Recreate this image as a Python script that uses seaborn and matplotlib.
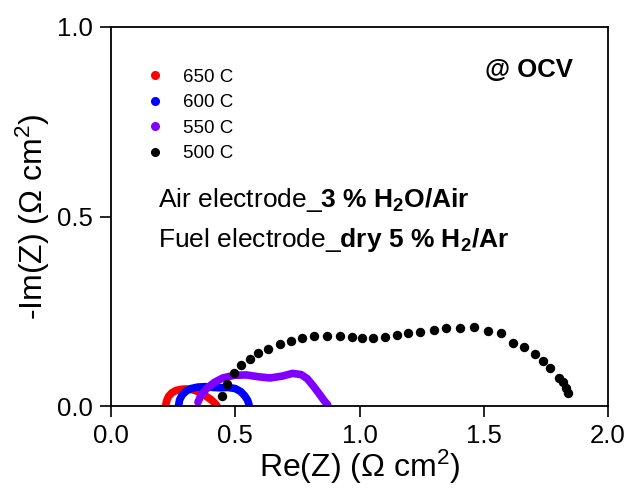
import matplotlib
matplotlib.use("Agg")
import matplotlib.pyplot as plt
from matplotlib.lines import Line2D
import seaborn as sns
import pandas as pd

# ---- data ----
labels = ["650 C", "600 C", "550 C", "500 C"]
colors = ["#ff0000", "#0000ff", "#8000ff", "#000000"]

re_650 = [0.220, 0.224, 0.232, 0.245, 0.262, 0.282, 0.302, 0.322, 0.342, 0.362, 0.382, 0.400, 0.414, 0.422, 0.426]
im_650 = [0.002, 0.014, 0.026, 0.035, 0.041, 0.044, 0.045, 0.044, 0.040, 0.034, 0.026, 0.018, 0.010, 0.004, 0.001]

re_600 = [0.272, 0.276, 0.286, 0.302, 0.322, 0.350, 0.380, 0.410, 0.440, 0.470, 0.500, 0.522, 0.538, 0.549, 0.554, 0.556]
im_600 = [0.002, 0.016, 0.029, 0.039, 0.046, 0.050, 0.051, 0.049, 0.048, 0.049, 0.046, 0.038, 0.027, 0.016, 0.007, 0.001]

re_550 = [0.350, 0.362, 0.385, 0.415, 0.450, 0.495, 0.545, 0.595, 0.640, 0.690, 0.730, 0.765, 0.790, 0.815, 0.838, 0.858, 0.872]
im_550 = [0.010, 0.028, 0.046, 0.062, 0.074, 0.081, 0.082, 0.077, 0.074, 0.079, 0.086, 0.083, 0.072, 0.052, 0.032, 0.014, 0.003]

re_500 = [0.448, 0.468, 0.496, 0.524, 0.560, 0.593, 0.633, 0.681, 0.726, 0.770, 0.818, 0.871, 0.921,
          0.968, 1.012, 1.056, 1.101, 1.149, 1.194, 1.242, 1.298, 1.347, 1.403, 1.460, 1.516, 1.569,
          1.617, 1.661, 1.706, 1.738, 1.766, 1.802, 1.819, 1.831, 1.839]
im_500 = [0.026, 0.058, 0.086, 0.107, 0.124, 0.140, 0.150, 0.164, 0.171, 0.179, 0.185, 0.185, 0.185,
          0.182, 0.180, 0.180, 0.182, 0.187, 0.193, 0.195, 0.200, 0.206, 0.206, 0.208, 0.198, 0.193,
          0.166, 0.156, 0.137, 0.119, 0.100, 0.074, 0.063, 0.047, 0.034]

x_ticks = [0.0, 0.5, 1.0, 1.5, 2.0]
y_ticks = [0.0, 0.5, 1.0]

# ---- style ----
sns.set_style("ticks")
plt.rcParams["font.family"] = ["Liberation Sans", "DejaVu Sans"]
plt.rcParams["mathtext.fontset"] = "custom"
plt.rcParams["mathtext.rm"] = "Liberation Sans"
plt.rcParams["mathtext.it"] = "Liberation Sans"
plt.rcParams["mathtext.bf"] = "Liberation Sans:bold"
plt.rcParams["text.color"] = "black"
plt.rcParams["axes.labelcolor"] = "black"
plt.rcParams["xtick.color"] = "black"
plt.rcParams["ytick.color"] = "black"

fig = plt.figure(figsize=(6.32, 4.88), dpi=100)
ax = fig.add_axes([111 / 632, 1 - 406 / 488, 497 / 632, 379 / 488])

lines = [(re_650, im_650), (re_600, im_600), (re_550, im_550)]
for (xs, ys), lab, c in zip(lines, labels[:3], colors[:3]):
    df = pd.DataFrame({"re": xs, "im": ys})
    sns.lineplot(data=df, x="re", y="im", sort=False, color=c, linewidth=5.5,
                 solid_capstyle="round", solid_joinstyle="round", ax=ax, legend=False)

df500 = pd.DataFrame({"re": re_500, "im": im_500})
sns.scatterplot(data=df500, x="re", y="im", color=colors[3], s=46, linewidth=0,
                ax=ax, legend=False, zorder=5)

ax.set_xlim(0, 2.0)
ax.set_ylim(0, 1.0)
ax.set_xticks(x_ticks)
ax.set_yticks(y_ticks)
ax.set_xticklabels([f"{v:.1f}" for v in x_ticks])
ax.set_yticklabels([f"{v:.1f}" for v in y_ticks])
ax.tick_params(axis="both", direction="out", length=8, width=1.2, labelsize=18.5,
               colors="black", labelcolor="black", pad=5)
for sp in ax.spines.values():
    sp.set_linewidth(1.3)
    sp.set_color("black")

ax.set_xlabel(r"Re(Z) ($\Omega$ cm$^2$)", fontsize=23, labelpad=0, color="black")
ax.set_ylabel(r"-Im(Z) ($\Omega$ cm$^2$)", fontsize=23, labelpad=4, color="black")

handles = [Line2D([0], [0], marker="o", linestyle="none", markersize=5.5,
                  markerfacecolor=c, markeredgecolor=c) for c in colors]
ax.legend(handles, labels, loc="upper left", bbox_to_anchor=(0.035, 0.935), frameon=False,
          fontsize=13.5, handletextpad=1.0, labelspacing=0.45, handlelength=1.0,
          labelcolor="black")

ax.text(0.93, 0.887, "@ OCV", fontsize=18.5, fontweight="bold", ha="right", va="center",
        transform=ax.transAxes, color="black")
ax.text(0.19, 0.544, r"Air electrode_$\mathbf{3\ \%\ H_2O/Air}$", fontsize=19, ha="left",
        va="center", color="black")
ax.text(0.19, 0.438, r"Fuel electrode_$\mathbf{dry\ 5\ \%\ H_2/Ar}$", fontsize=19, ha="left",
        va="center", color="black")

fig.savefig("out.png", dpi=100)
